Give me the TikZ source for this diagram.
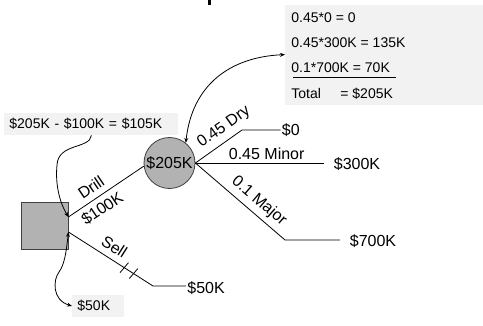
\documentclass[tikz,border=0pt]{standalone}
\usepackage{fontspec}
\setmainfont{Liberation Sans}
\usetikzlibrary{arrows.meta}
\begin{document}
\begin{tikzpicture}[x=1pt, y=1pt, line width=0.8pt, >={Stealth[length=5pt,width=4pt]},
  big/.style={font=\fontsize{16}{18}\selectfont, inner sep=1pt},
  lbl/.style={big, sloped},
  small/.style={font=\fontsize{14}{16}\selectfont, inner sep=2pt},
  note/.style={small, fill=black!5, anchor=west, inner sep=5pt, minimum height=22pt, align=left},
  cut/.style={draw, sloped, inner sep=0pt, minimum width=0pt, minimum height=13pt, rotate=-8}]
\useasboundingbox (0,0) rectangle (483,325);
\fill (208,320) rectangle (210.5,325);
% decision square and chance circle
\node[draw=black!75, fill=black!30, minimum size=47pt] (dec) at (44.5,99.5) {};
\node[circle, draw=black!75, fill=black!30, minimum size=51pt, big, inner sep=0pt] (chance) at (169.5,162) {\$205K};
\coordinate (drillA) at ([yshift=8.5pt]dec.east);
\coordinate (sellA) at ([yshift=-6.5pt]dec.east);
\coordinate (sellK) at (153,39);
\coordinate (dryK) at (242,195);
\coordinate (majK) at (285,85);
% payoffs
\node[big, anchor=west] (v0) at (280.5,195) {\$0};
\node[big, anchor=west] (v300) at (332.5,161) {\$300K};
\node[big, anchor=west] (v700) at (348.5,84) {\$700K};
\node[big, anchor=west] (v50) at (186,37) {\$50K};
% branches
\draw (drillA) -- node[lbl, pos=0.39, above=5pt] (pdrill) {Drill}
  node[lbl, pos=0.36, below=4pt] (pcost) {\$100K} (chance.187);
\draw (sellA) -- node[lbl, pos=0.465, above=5pt] (psell) {Sell}
  node[cut, pos=0.66] (cut1) {} node[cut, pos=0.77] (cut2) {} (sellK) -- (sellK -| v50.west);
\draw (chance.east) -- node[lbl, pos=0.77, above=4pt] (pdry) {0.45 Dry} (dryK) -- (dryK -| v0.west);
\draw[shorten >=8.5pt] (chance.east) -- node[big, pos=0.52, above=2pt] (pminor) {0.45 Minor} (chance.east -| v300.west);
\draw[shorten >=8.5pt] (chance.east) -- node[lbl, pos=0.62, above=3.5pt] (pmajor) {0.1 Major} (majK) -- (majK -| v700.west);
% expected value notes
\node[fill=black!5, minimum width=198pt, minimum height=100pt, anchor=south west, inner sep=0pt] (ev) at (285,220) {};
\node[small, anchor=west] (ev1) at (289,307) {0.45*0 = 0};
\node[small, anchor=west] (ev2) at (289,282) {0.45*300K = 135K};
\node[small, anchor=west] (ev3) at (289,257) {0.1*700K = 70K};
\node[small, anchor=west] (ev4) at (289,231) {\makebox[49pt][l]{Total}= \$205K};
\draw ([xshift=4pt,yshift=-5pt]ev3.base west) -- ([xshift=4pt,yshift=-5pt]ev3.base east);
\node[note, text width=164pt] (gain) at (4,201) {\$205K - \$100K = \$105K};
\node[note, text width=42pt] (sale) at (72,19) {\$50K};
% roll-back arrows
\draw[<->] (chance.51) .. controls (192,240) and (230,268) .. (ev.west);
\draw[->] (gain.south) .. controls (90,176) and (58,182) .. (57,160)
  .. controls (55,140) and (60,122) .. (drillA);
\draw[<->] (sellA) .. controls (66,70) and (64,60) .. (59,53)
  .. controls (53,45) and (52,25) .. (sale.west);
\end{tikzpicture}
\end{document}
